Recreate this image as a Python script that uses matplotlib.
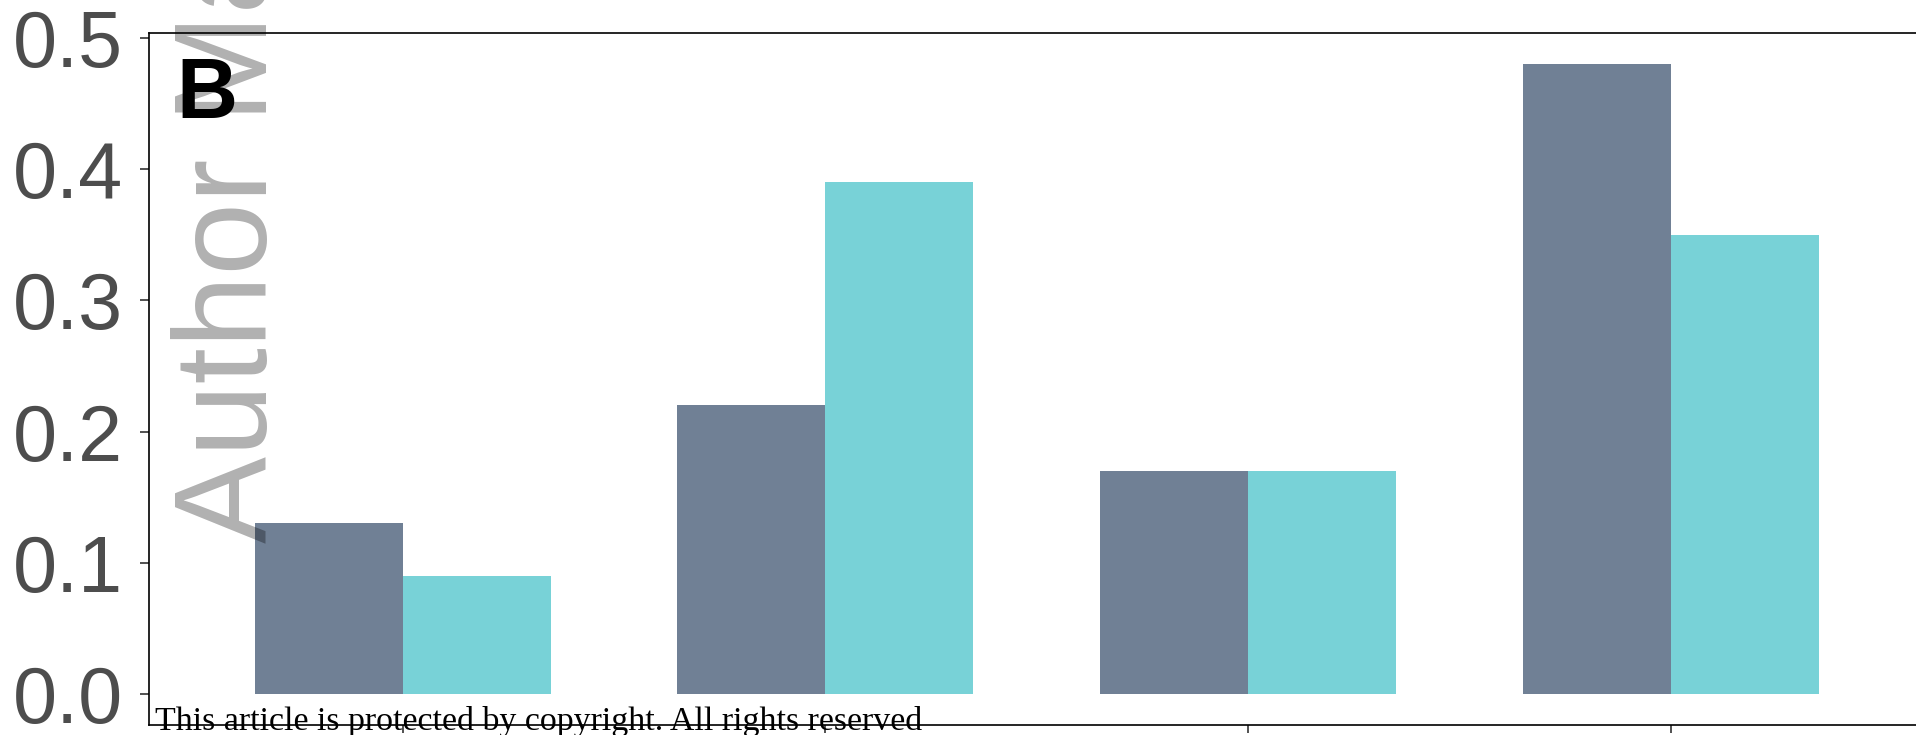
import numpy as np
import matplotlib.pyplot as plt

# Proportions for the four groups, two series each
groups = ["", "", "", ""]
series_a = [0.13, 0.22, 0.17, 0.48]
series_b = [0.09, 0.39, 0.17, 0.35]
y_ticks = [0.0, 0.1, 0.2, 0.3, 0.4, 0.5]

color_a = "#708095"
color_b = "#78d2d7"

fig = plt.figure(figsize=(19.16, 7.35), dpi=100)
ax = fig.add_axes([0.0778, 0.0136, 0.9266, 0.9415])

x = np.arange(len(groups))
w = 0.35
ax.bar(x - w / 2, series_a, width=w, color=color_a, linewidth=0)
ax.bar(x + w / 2, series_b, width=w, color=color_b, linewidth=0)

ax.set_xlim(-0.6, 3.6)
ax.set_ylim(-0.0236, 0.5038)
ax.set_xticks(x)
ax.set_xticklabels(groups)
ax.set_yticks(y_ticks)
ax.set_yticklabels([f"{t:.1f}" for t in y_ticks],
                   fontfamily="Liberation Sans", fontsize=57, color="#4d4d4d")
ax.tick_params(axis="y", direction="out", length=6.5, width=1.2,
               color="#333333", pad=12)
ax.tick_params(axis="x", direction="out", length=5.5, width=1.2,
               color="#333333")
for s in ax.spines.values():
    s.set_linewidth(1.2)
    s.set_color("black")

# panel letter
fig.text(176 / 1916, 0.8395, "B", fontfamily="Liberation Sans",
         fontweight="bold", fontsize=61, color="black", va="baseline", zorder=6)

# manuscript watermark
fig.text(267 / 1916, 0.2612, "Author Manuscript", rotation=90,
         rotation_mode="anchor", ha="left", va="baseline",
         fontfamily="Liberation Sans", fontsize=94, color="black",
         alpha=0.31, zorder=5)

# copyright footer
fig.text(155 / 1916, 0.0068, "This article is protected by copyright. All rights reserved",
         fontfamily="Liberation Serif", fontsize=24.4, color="black",
         va="baseline", zorder=4)

fig.savefig("out.png", dpi=100)
